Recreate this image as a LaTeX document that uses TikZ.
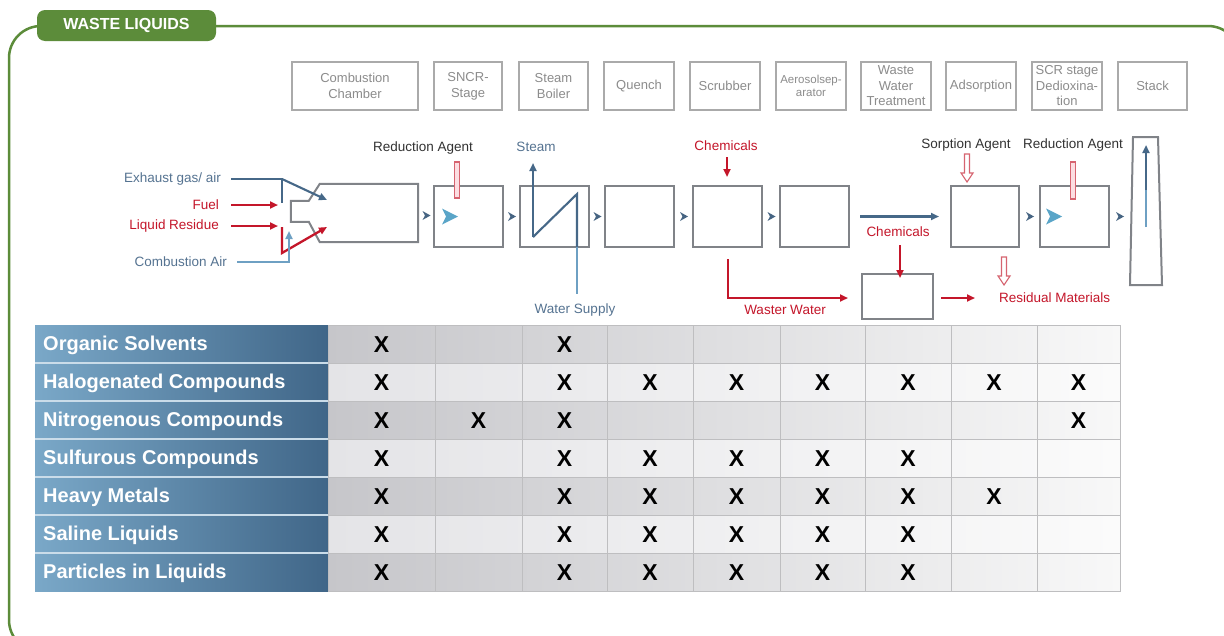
\documentclass[tikz,border=0pt]{standalone}
\usepackage{fontspec}
\setmainfont{Liberation Sans}
\usetikzlibrary{arrows.meta,calc}
\definecolor{frgreen}{RGB}{92,140,58}
\definecolor{hboxline}{RGB}{170,170,170}
\definecolor{htext}{RGB}{140,140,140}
\definecolor{pboxline}{RGB}{128,131,136}
\definecolor{flowblue}{RGB}{70,104,136}
\definecolor{lightflow}{RGB}{110,160,195}
\definecolor{labelblue}{RGB}{85,115,145}
\definecolor{flowred}{RGB}{196,22,42}
\definecolor{tubepink}{RGB}{252,222,226}
\definecolor{tubeline}{RGB}{214,100,112}
\definecolor{nozzle}{RGB}{90,165,200}
\definecolor{chev}{RGB}{70,100,130}
\definecolor{hdleft}{RGB}{122,168,200}
\definecolor{hdright}{RGB}{64,102,136}
\definecolor{gridgray}{RGB}{190,190,192}
\definecolor{oddleft}{RGB}{198,198,202}
\definecolor{oddright}{RGB}{248,248,248}
\definecolor{evenleft}{RGB}{228,228,231}
\definecolor{evenright}{RGB}{251,251,251}
\definecolor{agenttext}{RGB}{50,50,50}
\begin{document}
\begin{tikzpicture}[x=1pt,y=-1pt,
  lbl/.style={font=\fontsize{13.5}{16}\selectfont, inner sep=0pt},
  hbox/.style={draw=hboxline, line width=1.8pt, text=htext, align=center,
    inner sep=0pt, minimum height=48pt, font=\fontsize{13}{16}\selectfont},
  pbox/.style={draw=pboxline, line width=2pt, inner sep=0pt,
    minimum height=61pt, minimum width=69pt},
  pline/.style={draw=pboxline, line width=2pt},
  bflow/.style={draw=flowblue, line width=2.1pt},
  lflow/.style={draw=lightflow, line width=2.1pt},
  rflow/.style={draw=flowred, line width=2.3pt},
  tip/.style={-{Triangle[length=8pt,width=7pt]}},
  tube/.style={draw=tubeline, fill=tubepink, line width=1.1pt, inner sep=0pt,
    minimum width=5pt},
  rowlbl/.style={text=white, font=\bfseries\fontsize{20}{22}\selectfont,
    inner sep=0pt, anchor=west},
  xmark/.style={font=\bfseries\fontsize{23}{24}\selectfont, inner sep=0pt},
  chevmark/.pic={\fill[chev] (-3.5,-4.5) -- (4.5,0) -- (-3.5,4.5) -- (-1,0) -- cycle;},
  nozzlemark/.pic={\fill[nozzle] (0,-8) -- (16,0) -- (0,8) -- (4,0) -- cycle;},
  hollowdown/.pic={\filldraw[draw=tubeline, fill=white, line width=1.1pt]
    (-2.5,0) -- (2.5,0) -- (2.5,19) -- (6,19) -- (0,28) -- (-6,19)
    -- (-2.5,19) -- cycle;}
]
\useasboundingbox (0,0) rectangle (1224,635);
\fill[white] (0,0) rectangle (1224,635);

% frame and title tab
\begin{scope}
  \clip (0,0) rectangle (1224,635);
  \draw[frgreen, line width=2.5pt, rounded corners=32pt] (9,26) rectangle (1240,652);
\end{scope}
\node[fill=frgreen, rounded corners=8pt, minimum width=179pt, minimum height=31pt,
  inner sep=0pt, text=white, font=\bfseries\fontsize{16}{18}\selectfont]
  (tab) at (126.5,25.5) {WASTE LIQUIDS};

% stage headings
\node[hbox, minimum width=126pt] (hcc) at (355,86) {Combustion\\Chamber};
\node[hbox, minimum width=68pt] (hsncr) at (468,86) {SNCR-\\Stage};
\node[hbox, minimum width=69pt] (hboil) at (553.5,86) {Steam\\Boiler};
\node[hbox, minimum width=70pt] (hq) at (639,86) {Quench};
\node[hbox, minimum width=70pt] (hscr) at (725,86) {Scrubber};
\node[hbox, minimum width=70pt, font=\fontsize{11.5}{13}\selectfont] (haero) at (811,86) {Aerosolsep-\\arator};
\node[hbox, minimum width=70pt, font=\fontsize{13}{15.5}\selectfont] (hwwt) at (896,86) {Waste\\Water\\Treatment};
\node[hbox, minimum width=70pt] (hads) at (981,86) {Adsorption};
\node[hbox, minimum width=70pt, font=\fontsize{13}{15.5}\selectfont] (hscrb) at (1067,86) {SCR stage\\Dedioxina-\\tion};
\node[hbox, minimum width=69pt] (hstack) at (1152.5,86) {Stack};

% process units
\node[inner sep=0pt, minimum width=98pt, minimum height=58pt] (cc) at (369,213) {};
\draw[pline] (cc.north west) -- ++(-11,17) -- ++(-18,0) -- ++(0,21) -- ++(18,0)
  -- (cc.south west) -- (cc.south east) -- (cc.north east) -- cycle;
\node[pbox] (sncr) at (468.5,216.5) {};
\node[pbox] (boil) at (554.5,216.5) {};
\node[pbox] (quench) at (639.5,216.5) {};
\node[pbox] (scrub) at (727.5,216.5) {};
\node[pbox] (aero) at (814.5,216.5) {};
\node[pbox, minimum width=68pt] (ads) at (985,216.5) {};
\node[pbox] (scrb) at (1074.5,216.5) {};
\node[pbox, minimum width=71pt, minimum height=45pt] (wwt) at (897.5,296.5) {};
\draw[pline] (1133,137) -- (1158,137) -- (1162,285) -- (1130,285) -- cycle;
\coordinate (stkbot) at (1146,227);
\coordinate (stkmid) at (1146,190);
\coordinate (stktop) at (1146,145);
\draw[lflow] (stkbot) -- (stkmid);
\draw[bflow, tip] (stkmid) -- (stktop);

% gas path marks between units
\pic at (426,215.5) {chevmark};
\pic at ($(sncr.east)!0.5!(boil.west)$) {chevmark};
\pic at ($(boil.east)!0.5!(quench.west)$) {chevmark};
\pic at ($(quench.east)!0.5!(scrub.west)$) {chevmark};
\pic at ($(scrub.east)!0.5!(aero.west)$) {chevmark};
\pic at ($(ads.east)!0.5!(scrb.west)$) {chevmark};
\pic at (1119.5,216.5) {chevmark};
\draw[bflow, tip] ([xshift=10pt]aero.east) -- ([xshift=-11pt]ads.west);

% injection nozzles
\pic at ([xshift=9pt]sncr.west) {nozzlemark};
\pic at ([xshift=7pt]scrb.west) {nozzlemark};

% feeds into the combustion chamber
\node[lbl, anchor=east, text=labelblue] (exh) at (221,179) {Exhaust gas/ air};
\node[lbl, anchor=east, text=flowred] (fuel) at (219,205) {Fuel};
\node[lbl, anchor=east, text=flowred] (liq) at (219,226) {Liquid Residue};
\node[lbl, anchor=east, text=labelblue] (cair) at (227,262) {Combustion Air};
\coordinate (exhj) at (282,179);
\coordinate (exhend) at (282,203);
\coordinate (exhin) at (327,200);
\coordinate (redj) at (282,253);
\coordinate (redin) at (327,227);
\coordinate (redtop) at (282,227);
\coordinate (airj) at (289,262);
\coordinate (airend) at (289,231);
\draw[bflow] ([xshift=10pt]exh.east) -- (exhj) -- (exhend);
\draw[bflow, tip] (exhj) -- (exhin);
\draw[rflow, tip] ([xshift=12pt]fuel.east) -- ++(47,0);
\draw[rflow, tip] ([xshift=12pt]liq.east) -- ++(47,0);
\draw[rflow, tip] (redtop) -- (redj) -- (redin);
\draw[lflow, tip] ([xshift=10pt]cair.east) -- (airj) -- (airend);

% SNCR reduction agent
\node[lbl, text=agenttext] (redag1) at (423,148) {Reduction Agent};
\node[tube, minimum height=36pt] (tube1) at (457,180) {};

% steam boiler
\node[lbl, text=labelblue] (steam) at (536,147) {Steam};
\node[lbl, text=labelblue] (wsup) at (575,310) {Water Supply};
\coordinate (bl) at (533,237);
\coordinate (st) at (533,163);
\coordinate (br) at (577,194);
\coordinate (bin) at (577,247);
\coordinate (wsend) at (577,294);
\draw[bflow, tip] (bl) -- (st);
\draw[bflow] (bl) -- (br) -- (bin);
\draw[lflow] (bin) -- (wsend);

% scrubber chemicals and waste water
\node[lbl, text=flowred] (chem1) at (726,146) {Chemicals};
\coordinate (c1top) at (727,157);
\draw[rflow, tip] (c1top) -- (c1top |- 0,177);
\coordinate (wwtop) at (728,259);
\coordinate (wwcorner) at (728,298);
\draw[rflow, tip] (wwtop) -- (wwcorner) -- ([xshift=-13pt]wwcorner -| wwt.west);
\node[lbl, text=flowred] (wwlbl) at (785,310) {Waster Water};

% waste water treatment
\node[lbl, text=flowred] (chem2) at (898,232) {Chemicals};
\coordinate (c2top) at (900,245);
\draw[rflow, tip] (c2top) -- ([yshift=-5pt]c2top |- wwt.north);
\node[lbl, anchor=west, text=flowred] (resid) at (999,298) {Residual Materials};
\coordinate (resstart) at ([xshift=7pt]wwt.east |- resid.west);
\draw[rflow, tip] (resstart) -- ([xshift=-24pt]resid.west);
\pic at (1004,257) {hollowdown};

% adsorption and SCR agents
\node[lbl, text=agenttext] (sorp) at (966,145) {Sorption Agent};
\pic at (967,154) {hollowdown};
\node[lbl, text=agenttext] (redag2) at (1073,145) {Reduction Agent};
\node[tube, minimum height=37pt] (tube2) at (1073,180.5) {};

% table: row headings
\shade[left color=hdleft, right color=hdright] (35,325) rectangle (328,591);
\foreach \k in {1,...,6} {
  \draw[white!60!hdleft, line width=1.5pt] (35,325+38*\k) -- (328,325+38*\k);
}
\foreach \t [count=\i] in {Organic Solvents, Halogenated Compounds,
  Nitrogenous Compounds, Sulfurous Compounds, Heavy Metals,
  Saline Liquids, Particles in Liquids} {
  \node[rowlbl] (row\i) at (43,345+38*\i-38) {\t};
}

% table: cells
\foreach \i in {1,3,5,7} {
  \shade[left color=oddleft, right color=oddright] (328,287+38*\i) rectangle (1120,325+38*\i);
}
\foreach \i in {2,4,6} {
  \shade[left color=evenleft, right color=evenright] (328,287+38*\i) rectangle (1120,325+38*\i);
}
\foreach \xv in {435,522,607,693,780,865,951,1037} {
  \draw[gridgray, line width=1pt] (\xv,325) -- (\xv,591);
}
\foreach \k in {1,...,6} {
  \draw[gridgray, line width=1pt] (328,325+38*\k) -- (1120,325+38*\k);
}
\draw[gridgray, line width=1pt] (328,325) rectangle (1120,591);

\foreach \r/\cols in {1/{1,3}, 2/{1,3,4,5,6,7,8,9}, 3/{1,2,3,9},
  4/{1,3,4,5,6,7}, 5/{1,3,4,5,6,7,8}, 6/{1,3,4,5,6,7}, 7/{1,3,4,5,6,7}} {
  \foreach \c in \cols {
    \pgfmathsetmacro\cx{{381.5,478.5,564.5,650,736.5,822.5,908,994,1078.5}[\c-1]}
    \node[xmark] (m\r-\c) at (\cx,345+38*\r-38) {X};
  }
}
\end{tikzpicture}
\end{document}
